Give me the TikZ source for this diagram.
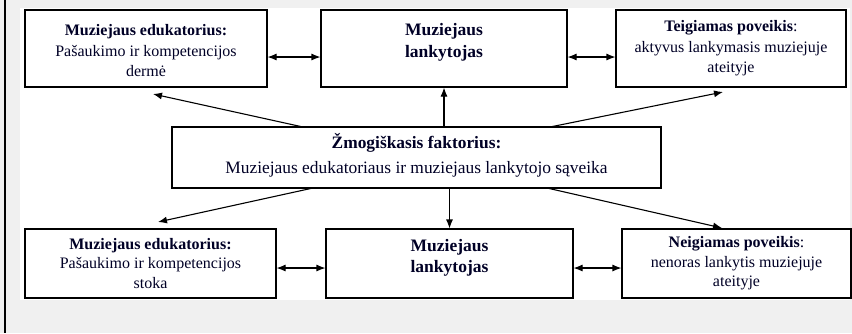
\documentclass[tikz,border=0pt]{standalone}
\usepackage{fontspec}
\setmainfont{Liberation Serif}
\usetikzlibrary{arrows.meta}
\newcommand{\hb}[1]{{\fontsize{16}{20}\selectfont\bfseries #1}}
\newcommand{\hbb}[1]{{\fontsize{17.5}{21}\selectfont\bfseries #1}}
\begin{document}
\begin{tikzpicture}[x=1pt,y=-1pt,
  box/.style={draw=black,line width=1.1pt,fill=white,inner sep=0pt},
  txt/.style={align=center,font=\fontsize{16}{20.5}\selectfont,text=black!85!blue},
  arr/.style={line width=1.1pt,-{Latex[length=9pt,width=7pt]}},
  darr/.style={line width=1.1pt,{Latex[length=9pt,width=7pt]}-{Latex[length=9pt,width=7pt]}}]
\useasboundingbox (0,0) rectangle (852,333);
\fill[gray!12] (0,0) rectangle (852,333);
\fill[white] (20,8) rectangle (850,300);
\draw[line width=2pt] (4.5,0) -- (4.5,333);
% boxes
\node[box,minimum width=242pt,minimum height=77pt] (tl) at (146,48.5) {};
\node[box,minimum width=246pt,minimum height=77pt] (tm) at (444,48.5) {};
\node[box,minimum width=230pt,minimum height=77pt] (tr) at (731,48.5) {};
\node[box,minimum width=489pt,minimum height=61pt] (c) at (416.5,157.5) {};
\node[box,minimum width=251pt,minimum height=69pt] (bl) at (150.5,263.5) {};
\node[box,minimum width=247pt,minimum height=69pt] (bm) at (449.5,263.5) {};
\node[box,minimum width=229pt,minimum height=69pt] (br) at (736.5,263.5) {};
% texts
\node[txt] (tlt) at (146,51) {\hb{Muziejaus edukatorius:}\\Pašaukimo ir kompetencijos\\dermė};
\node[txt,font=\fontsize{16}{22}\selectfont] (tmt) at (444,42) {\hbb{Muziejaus}\\\hbb{lankytojas}};
\node[txt] (trt) at (731,48.5) {\hb{Teigiamas poveikis}:\\aktyvus lankymasis muziejuje\\ateityje};
\node[txt,font=\fontsize{17.4}{25}\selectfont] (ct) at (416.5,155) {\textbf{Žmogiškasis faktorius:}\\Muziejaus edukatoriaus ir muziejaus lankytojo sąveika};
\node[txt,font=\fontsize{16}{19.5}\selectfont] (blt) at (150.5,263.5) {\hb{Muziejaus edukatorius:}\\Pašaukimo ir kompetencijos\\stoka};
\node[txt,font=\fontsize{16}{21}\selectfont] (bmt) at (449.5,257.5) {\hbb{Muziejaus}\\\hbb{lankytojas}};
\node[txt,font=\fontsize{16}{19.5}\selectfont] (brt) at (736.5,263.5) {\hb{Neigiamas poveikis}:\\nenoras lankytis muziejuje\\ateityje};
% arrows
\coordinate (c1) at (303,127);
\coordinate (c2) at (550,127);
\coordinate (c3) at (313,188);
\coordinate (c4) at (547,188);
\draw[arr] (c1) -- (153,94);
\draw[arr] (c.north -| tm.south) -- (tm.south);
\draw[arr] (c2) -- (723,92);
\draw[arr] (c3) -- (158,222);
\draw[arr] (c.south -| bm.north) -- (bm.north);
\draw[arr] (c4) -- (722,228);
\draw[darr] (tl.east |- 0,57) -- (tm.west |- 0,57);
\draw[darr] (tm.east |- 0,57) -- (tr.west |- 0,57);
\draw[darr] (bl.east |- 0,268) -- (bm.west |- 0,268);
\draw[darr] (bm.east |- 0,268) -- (br.west |- 0,268);
\end{tikzpicture}
\end{document}
